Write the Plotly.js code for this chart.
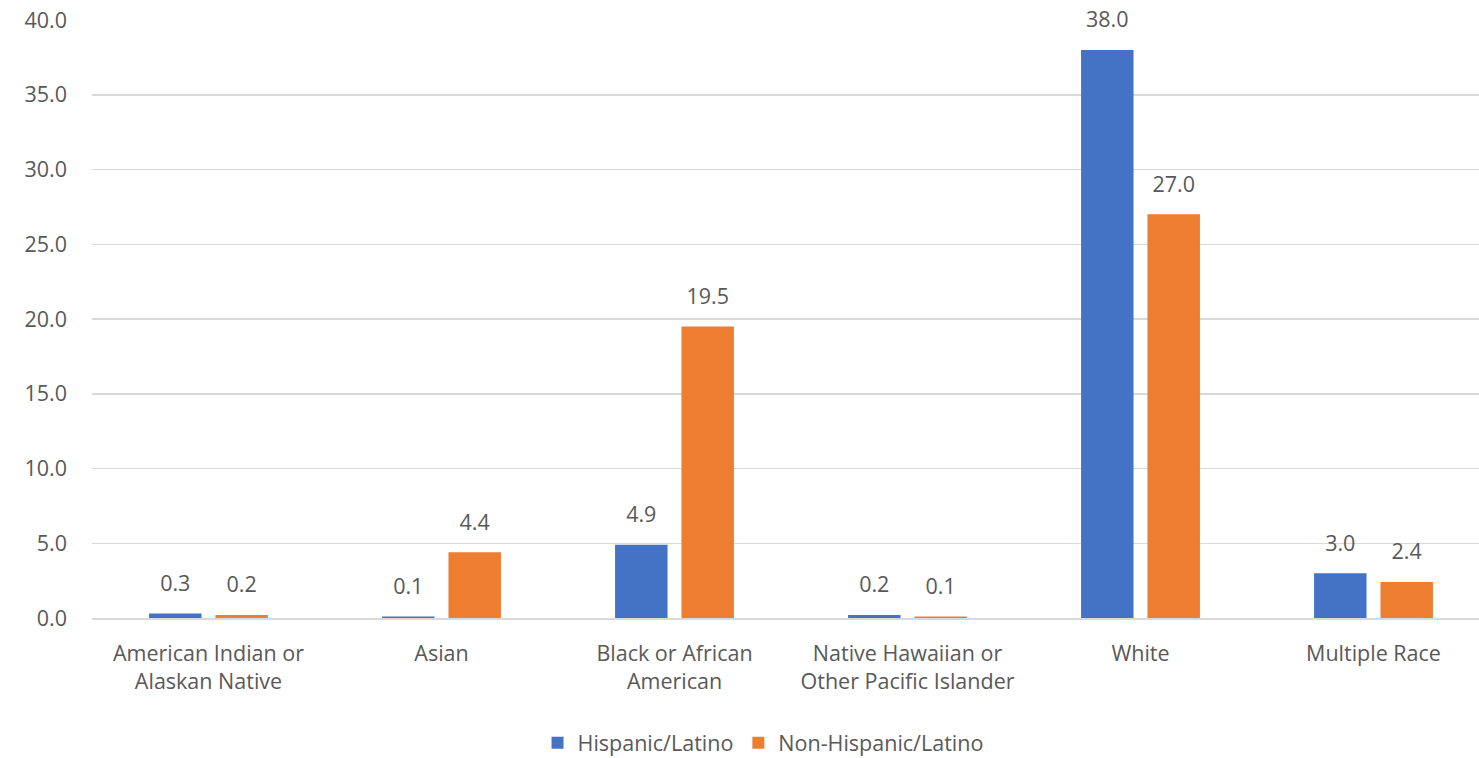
<!DOCTYPE html>
<html>
<head>
<meta charset="utf-8">
<script src="https://cdn.plot.ly/plotly-3.0.1.min.js"></script>
<style>
html,body{margin:0;padding:0;background:#fff;overflow:hidden;}
#chart{width:1490px;height:758px;}
</style>
</head>
<body>
<div id="chart"></div>
<script>
const categories = [
  "American Indian or<br>Alaskan Native",
  "Asian",
  "Black or African<br>American",
  "Native Hawaiian or<br>Other Pacific Islander",
  "White",
  "Multiple Race"
];
const hispanic = [0.3, 0.1, 4.9, 0.2, 38.0, 3.0];
const nonHispanic = [0.2, 4.4, 19.5, 0.1, 27.0, 2.4];
const seriesNames = ["Hispanic/Latino", "Non-Hispanic/Latino"];
const yTicks = [0, 5, 10, 15, 20, 25, 30, 35, 40];

const font = "Open Sans, Lato, sans-serif";
const textColor = "#595959";
const colors = ["#4472C4", "#ED7D31"];
const fs = 21.5;

function barTrace(vals, i) {
  return {
    type: "bar", x: categories, y: vals, name: seriesNames[i],
    offsetgroup: "g" + i,
    marker: {color: colors[i], line: {width: 0}},
    hoverinfo: "y"
  };
}
function labelTrace(vals, i) {
  return {
    type: "scatter", mode: "markers+text", x: categories, y: vals,
    offsetgroup: "g" + i, showlegend: false,
    text: vals.map(v => v.toFixed(1)),
    textposition: "top center",
    textfont: {family: font, size: fs, color: textColor},
    marker: {size: 26, opacity: 0, color: "rgba(0,0,0,0)"},
    cliponaxis: false, hoverinfo: "skip"
  };
}

const data = [
  barTrace(hispanic, 0), barTrace(nonHispanic, 1),
  labelTrace(hispanic, 0), labelTrace(nonHispanic, 1)
];

const layout = {
  width: 1490, height: 758,
  margin: {l: 92, r: 0, t: 20, b: 140, autoexpand: false},
  paper_bgcolor: "#fff", plot_bgcolor: "#fff",
  font: {family: font, size: fs, color: textColor},
  barmode: "group", scattermode: "group",
  bargap: 0.43, bargroupgap: 0.21, scattergap: 0.43,
  showlegend: true,
  legend: {
    orientation: "h", x: 0.48, xanchor: "center",
    yref: "container", y: 0.02, yanchor: "middle",
    font: {family: font, size: fs, color: textColor},
    itemwidth: 30, traceorder: "normal"
  },
  xaxis: {
    type: "category", showgrid: false, zeroline: false, automargin: false,
    showline: true, linecolor: "#D9D9D9", linewidth: 1.5,
    ticks: "", ticklabelstandoff: 16,
    tickfont: {family: font, size: fs, color: textColor}
  },
  yaxis: {
    range: [0, 40], tickvals: yTicks, automargin: false,
    ticktext: yTicks.map(v => v.toFixed(1)),
    showgrid: true, gridcolor: "#D9D9D9", gridwidth: 1.5,
    zeroline: false, showline: false, ticks: "",
    ticklabelstandoff: 24,
    tickfont: {family: font, size: fs, color: textColor}
  }
};

Plotly.newPlot("chart", data, layout, {displayModeBar: false, staticPlot: true});
</script>
</body>
</html>
